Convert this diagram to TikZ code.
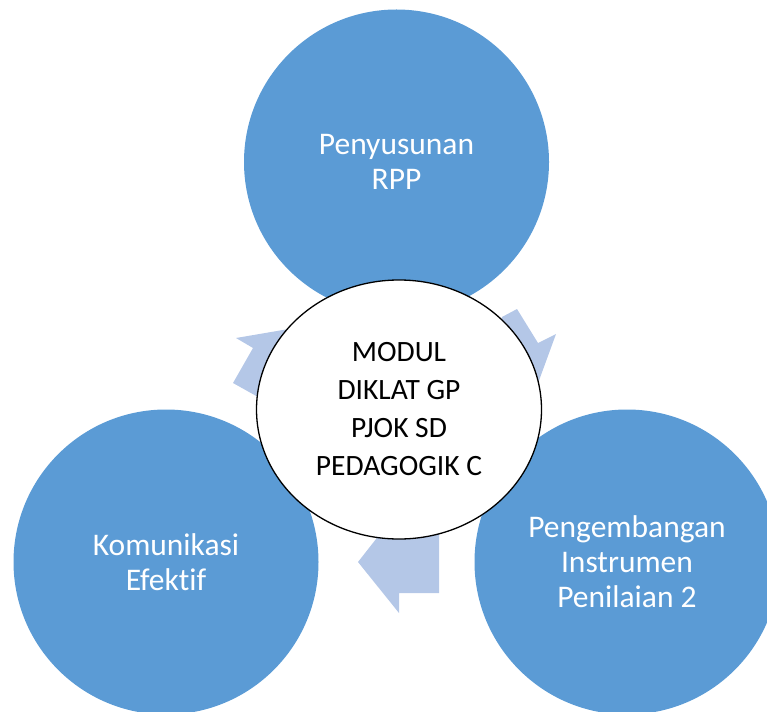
\documentclass[tikz,border=0pt]{standalone}
\usepackage{fontspec}
\setmainfont{Carlito}[Ligatures=NoCommon]
\usetikzlibrary{shapes.geometric}
\definecolor{cblue}{HTML}{5B9BD5}
\definecolor{alight}{HTML}{B4C7E7}
\begin{document}
\begin{tikzpicture}[x=1pt,y=-1pt,
  bigcirc/.style={circle,fill=cblue,minimum size=305pt,inner sep=0pt,text=white,align=center,font=\fontsize{31.5}{35}\selectfont},
  hub/.style={ellipse,draw=black,line width=1.3pt,fill=white,minimum width=285pt,minimum height=259pt,inner sep=0pt,align=center,font=\fontsize{29.5}{38}\selectfont},
  cyc/.style={fill=alight,draw=none}]
\useasboundingbox (0,0) rectangle (767,711);
\begin{scope}
\clip (0,0) rectangle (767,711);
\node[bigcirc] (top) at (396.5,162) {Penyusunan\\RPP};
\node[bigcirc] (left) at (166,562) {Komunikasi\\Efektif};
\node[bigcirc] (right) at (627,562) {Pengembangan\\Instrumen\\Penilaian 2};
\fill[cyc] (233,383) -- (253,348) -- (236,338) -- (318,324) -- (292,416) -- cycle;
\fill[cyc] (502,317) -- (517,309) -- (538,343) -- (556,334) -- (537,386) -- (500,352) -- cycle;
\fill[cyc] (439,520) -- (439,593) -- (399,593) -- (399,613) -- (358,562) -- (398,511) -- cycle;
\end{scope}
\node[hub] (hub) at (399,409.5) {MODUL\\DIKLAT GP\\PJOK SD\\PEDAGOGIK C};
\end{tikzpicture}
\end{document}
